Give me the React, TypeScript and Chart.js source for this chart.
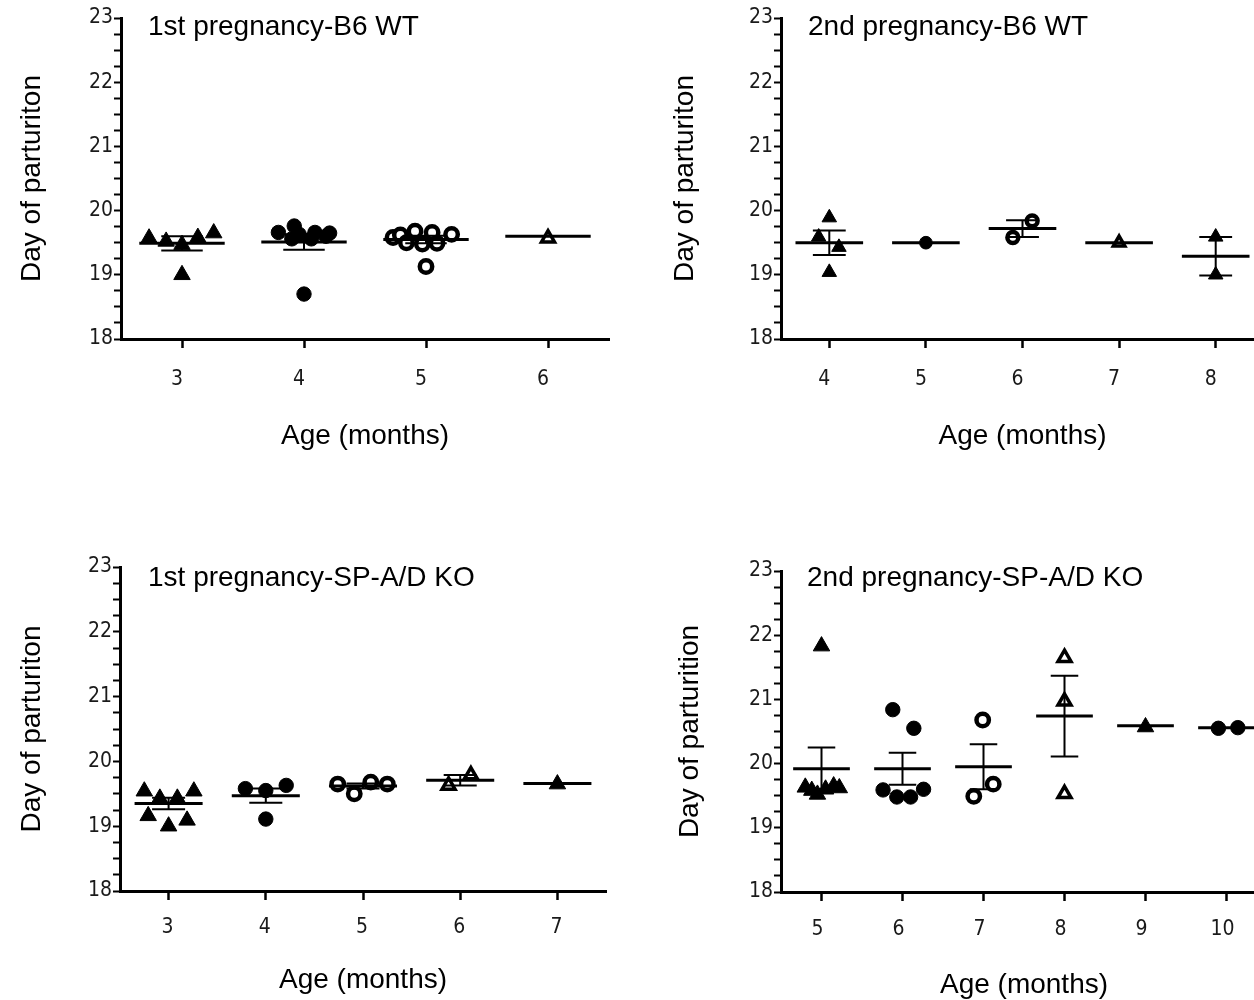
import React, { useEffect, useRef } from 'react';
import { Chart, registerables } from 'chart.js';

Chart.register(...registerables);

const FONT = '"Liberation Sans", Arial, sans-serif';
const NARROW = '"Liberation Sans Narrow", "Arial Narrow", "DejaVu Sans Condensed", sans-serif';

// ---------- Panel 1: 1st pregnancy - B6 WT ----------
const p1Ages = [3, 4, 5, 6];
const p1Marker = ['tri', 'dot', 'ring', 'otri'];
const p1X = [
  [2.73, 2.87, 3.0, 3.13, 3.26, 3.0],
  [3.79, 3.9, 3.92, 3.96, 4.06, 4.09, 4.18, 4.21, 4.0],
  [4.73, 4.79, 4.84, 4.91, 4.97, 5.05, 5.09, 5.21, 5.0],
  [6.0],
];
const p1Y = [
  [19.57, 19.52, 19.47, 19.58, 19.65, 19.0],
  [19.66, 19.56, 19.76, 19.63, 19.56, 19.66, 19.6, 19.65, 18.7],
  [19.58, 19.62, 19.5, 19.68, 19.48, 19.66, 19.49, 19.63, 19.13],
  [19.57],
];
const p1Mean = [19.49, 19.51, 19.55, 19.6];
const p1Sem = [0.11, 0.12, 0.06, 0];

// ---------- Panel 2: 2nd pregnancy - B6 WT ----------
const p2Ages = [4, 5, 6, 7, 8];
const p2Marker = ['tri', 'dot', 'ring', 'otri', 'tri'];
const p2X = [
  [4.0, 3.89, 4.1, 4.0],
  [5.0],
  [6.1, 5.9],
  [7.0],
  [8.0, 8.0],
];
const p2Y = [
  [19.89, 19.59, 19.43, 19.04],
  [19.5],
  [19.84, 19.58],
  [19.5],
  [19.59, 19.0],
];
const p2Mean = [19.5, 19.5, 19.72, 19.5, 19.29];
const p2Sem = [0.19, 0, 0.13, 0, 0.3];

// ---------- Panel 3: 1st pregnancy - SP-A/D KO ----------
const p3Ages = [3, 4, 5, 6, 7];
const p3Marker = ['tri', 'dot', 'ring', 'otri', 'tri'];
const p3X = [
  [2.75, 2.91, 3.09, 3.26, 2.79, 3.0, 3.19],
  [3.79, 4.0, 4.21, 4.0],
  [4.74, 4.91, 5.08, 5.25],
  [5.88, 6.11],
  [7.0],
];
const p3Y = [
  [19.54, 19.43, 19.43, 19.54, 19.16, 19.0, 19.09],
  [19.58, 19.55, 19.63, 19.11],
  [19.65, 19.5, 19.68, 19.65],
  [19.63, 19.79],
  [19.65],
];
const p3Mean = [19.35, 19.47, 19.62, 19.71, 19.66];
const p3Sem = [0.09, 0.11, 0.04, 0.08, 0];

// ---------- Panel 4: 2nd pregnancy - SP-A/D KO ----------
const p4Ages = [5, 6, 7, 8, 9, 10];
const p4Marker = ['tri', 'dot', 'ring', 'otri', 'tri', 'dot'];
const p4X = [
  [5.0, 4.8, 4.88, 4.95, 5.05, 5.15, 5.22],
  [5.88, 6.14, 5.76, 5.93, 6.1, 6.26],
  [6.99, 6.88, 7.12],
  [8.0, 8.0, 8.0],
  [9.0],
  [9.9, 10.14],
];
const p4Y = [
  [21.83, 19.63, 19.58, 19.52, 19.6, 19.65, 19.62],
  [20.84, 20.55, 19.59, 19.48, 19.48, 19.6],
  [20.68, 19.49, 19.68],
  [21.65, 20.97, 19.53],
  [20.57],
  [20.55, 20.56],
];
const p4Mean = [19.92, 19.92, 19.95, 20.74, 20.59, 20.56];
const p4Sem = [0.33, 0.25, 0.35, 0.63, 0, 0];

const yMajorTicks = [18, 19, 20, 21, 22, 23];

const MARKERS: any = {
  tri: { style: 'triangle', r: 9.5, bg: '#000', bw: 1 },
  dot: { style: 'circle', r: 7.2, bg: '#000', bw: 1 },
  ring: { style: 'circle', r: 6.2, bg: '#fff', bw: 4.5 },
  otri: { style: 'triangle', r: 7.5, bg: '#fff', bw: 3.5 },
};

const meanSemPlugin = {
  id: 'meanSem',
  afterDatasetsDraw(chart: any, _args: any, opts: any) {
    const { ctx } = chart;
    const x = chart.scales.x;
    const y = chart.scales.y;
    ctx.save();
    ctx.strokeStyle = '#000';
    ctx.lineCap = 'butt';
    opts.ages.forEach((a: number, i: number) => {
      const m = opts.means[i];
      const s = opts.sems[i];
      const ym = y.getPixelForValue(m);
      ctx.lineWidth = 3;
      ctx.beginPath();
      ctx.moveTo(x.getPixelForValue(a - 0.35), ym);
      ctx.lineTo(x.getPixelForValue(a + 0.35), ym);
      ctx.stroke();
      if (s > 0) {
        const yt = y.getPixelForValue(m + s);
        const yb = y.getPixelForValue(m - s);
        const cl = x.getPixelForValue(a - 0.17);
        const cr = x.getPixelForValue(a + 0.17);
        const xc = x.getPixelForValue(a);
        ctx.lineWidth = 2;
        ctx.beginPath();
        ctx.moveTo(xc, yt);
        ctx.lineTo(xc, yb);
        ctx.moveTo(cl, yt);
        ctx.lineTo(cr, yt);
        ctx.moveTo(cl, yb);
        ctx.lineTo(cr, yb);
        ctx.stroke();
      }
    });
    ctx.restore();
  },
};

const titlePlugin = {
  id: 'panelTitle',
  afterDraw(chart: any, _args: any, opts: any) {
    const { ctx, chartArea } = chart;
    ctx.save();
    ctx.font = `28px ${FONT}`;
    ctx.fillStyle = '#000';
    ctx.textAlign = 'left';
    ctx.textBaseline = 'middle';
    ctx.fillText(opts.text, chartArea.left + opts.dx, chartArea.top + opts.dy);
    ctx.restore();
  },
};

const PANELS = [
  {
    key: 'p1', title: '1st pregnancy-B6 WT', yTitle: 'Day of parturiton',
    ages: p1Ages, marker: p1Marker, xs: p1X, ys: p1Y, means: p1Mean, sems: p1Sem,
    left: 0, top: 0, w: 640, h: 456, yW: 121, padTop: 18, padRight: 31, xH: 117,
    xMin: 2.5, xMax: 6.5, tickPad: 19, labelOffset: -5, ytPad: 15, xtPad: 3, dx: 27, dy: 9, scale: 1,
  },
  {
    key: 'p2', title: '2nd pregnancy-B6 WT', yTitle: 'Day of parturiton',
    ages: p2Ages, marker: p2Marker, xs: p2X, ys: p2Y, means: p2Mean, sems: p2Sem,
    left: 640, top: 0, w: 640, h: 456, yW: 141, padTop: 18, padRight: 16, xH: 117,
    xMin: 3.5, xMax: 8.5, tickPad: 19, labelOffset: -5, ytPad: 28, xtPad: 3, dx: 27, dy: 9, scale: 0.88,
  },
  {
    key: 'p3', title: '1st pregnancy-SP-A/D KO', yTitle: 'Day of parturiton',
    ages: p3Ages, marker: p3Marker, xs: p3X, ys: p3Y, means: p3Mean, sems: p3Sem,
    left: 0, top: 540, w: 640, h: 460, yW: 120, padTop: 27, padRight: 34, xH: 109,
    xMin: 2.5, xMax: 7.5, tickPad: 15, labelOffset: -1, ytPad: 15, xtPad: 3, dx: 28, dy: 11, scale: 1,
  },
  {
    key: 'p4', title: '2nd pregnancy-SP-A/D KO', yTitle: 'Day of parturition',
    ages: p4Ages, marker: p4Marker, xs: p4X, ys: p4Y, means: p4Mean, sems: p4Sem,
    left: 640, top: 540, w: 640, h: 466, yW: 141, padTop: 31, padRight: 13, xH: 114,
    xMin: 4.5, xMax: 10.5, tickPad: 16, labelOffset: -4, ytPad: 33, xtPad: 4, dx: 26, dy: 7, scale: 1,
  },
];

function buildConfig(p: any): any {
  const datasets = p.ages.map((a: number, i: number) => {
    const mk = MARKERS[p.marker[i]];
    return {
      type: 'scatter',
      label: String(a),
      data: p.xs[i].map((xv: number, j: number) => ({ x: xv, y: p.ys[i][j] })),
      pointStyle: mk.style,
      pointRadius: mk.r * p.scale,
      pointBackgroundColor: mk.bg,
      pointBorderColor: '#000',
      pointBorderWidth: mk.bw,
      showLine: false,
    };
  });
  const yTickValues: number[] = [];
  for (let k = 0; k < yMajorTicks.length - 1; k++) {
    for (let q = 0; q < 4; q++) yTickValues.push(yMajorTicks[k] + q * 0.25);
  }
  yTickValues.push(yMajorTicks[yMajorTicks.length - 1]);

  return {
    type: 'scatter',
    data: { datasets },
    plugins: [meanSemPlugin, titlePlugin],
    options: {
      animation: false,
      responsive: false,
      events: [],
      layout: { padding: { left: 0, top: p.padTop, right: p.padRight, bottom: 0 } },
      plugins: {
        legend: { display: false },
        tooltip: { enabled: false },
        meanSem: { ages: p.ages, means: p.means, sems: p.sems },
        panelTitle: { text: p.title, dx: p.dx, dy: p.dy },
      },
      scales: {
        x: {
          type: 'linear',
          min: p.xMin,
          max: p.xMax,
          afterBuildTicks: (s: any) => { s.ticks = p.ages.map((v: number) => ({ value: v })); },
          afterFit: (s: any) => { s.height = p.xH; },
          grid: { drawOnChartArea: false, drawTicks: true, tickLength: 9, tickWidth: 2.5, tickColor: '#000' },
          border: { display: true, color: '#000', width: 3 },
          ticks: {
            autoSkip: false,
            maxRotation: 0,
            color: '#1a1a1a',
            font: { family: NARROW, size: 21 },
            padding: p.tickPad,
            labelOffset: p.labelOffset,
            callback: (v: any) => String(v),
          },
          title: {
            display: true,
            text: 'Age (months)',
            color: '#000',
            font: { family: FONT, size: 28 },
            padding: { top: 0, bottom: p.xtPad },
          },
        },
        y: {
          type: 'linear',
          min: 18,
          max: 23,
          afterBuildTicks: (s: any) => { s.ticks = yTickValues.map((v) => ({ value: v })); },
          afterFit: (s: any) => { s.width = p.yW; },
          grid: { drawOnChartArea: false, drawTicks: true, tickLength: 7, tickWidth: 2, tickColor: '#000' },
          border: { display: true, color: '#000', width: 3 },
          ticks: {
            autoSkip: false,
            color: '#1a1a1a',
            font: { family: NARROW, size: 21 },
            padding: 1,
            callback: (v: any) => (yMajorTicks.includes(v) ? String(v) : ''),
          },
          title: {
            display: true,
            text: p.yTitle,
            color: '#000',
            font: { family: FONT, size: 28 },
            padding: { top: p.ytPad, bottom: 0 },
          },
        },
      },
    },
  };
}

function Panel({ p }: { p: any }) {
  const ref = useRef<HTMLCanvasElement | null>(null);
  useEffect(() => {
    if (!ref.current) return;
    const chart = new Chart(ref.current, buildConfig(p));
    return () => chart.destroy();
  }, [p]);
  return (
    <canvas
      ref={ref}
      width={p.w}
      height={p.h}
      style={{ position: 'absolute', left: p.left, top: p.top, width: p.w, height: p.h }}
    />
  );
}

export default function App() {
  return (
    <div
      style={{
        position: 'fixed',
        left: 0,
        top: 0,
        width: 1254,
        height: 1000,
        overflow: 'hidden',
        background: '#fff',
      }}
    >
      {PANELS.map((p) => (
        <Panel key={p.key} p={p} />
      ))}
    </div>
  );
}
